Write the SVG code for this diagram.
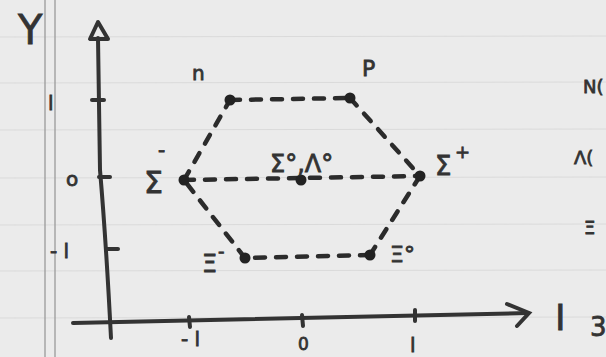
<svg xmlns="http://www.w3.org/2000/svg" width="606" height="357" viewBox="0 0 606 357">
<style>
.ax{stroke:#333;stroke-width:4;fill:none;stroke-linecap:round}
.tk{stroke:#333;stroke-width:4;stroke-linecap:round}
.dash{stroke:#2b2b2b;stroke-width:4.5;fill:none;stroke-dasharray:10 11;stroke-linecap:round}
.dot{fill:#222}
.lbl{font-family:"DejaVu Sans",sans-serif;fill:#333;stroke:#333;stroke-width:0.8}
.rule{stroke:#dadada;stroke-width:1}
</style>
<rect width="606" height="357" fill="#ebebeb"/>
<g id="paper">
<line class="rule" x1="0" y1="37" x2="606" y2="36"/>
<line class="rule" x1="0" y1="83" x2="606" y2="82"/>
<line class="rule" x1="0" y1="130" x2="606" y2="129"/>
<line class="rule" x1="0" y1="178" x2="606" y2="177"/>
<line class="rule" x1="0" y1="225" x2="606" y2="224"/>
<line class="rule" x1="0" y1="271" x2="606" y2="270"/>
<line class="rule" x1="0" y1="318" x2="606" y2="317"/>
<line x1="45" y1="0" x2="45" y2="357" stroke="#9a9a9a" stroke-width="1.3"/>
<line x1="55" y1="0" x2="55" y2="357" stroke="#9a9a9a" stroke-width="1.3"/>
</g>
<g id="axes">
<path class="ax" d="M98 38 L100 170 Q106 240 111 338"/>
<path d="M98 22 L90 39 L108 39 Z" stroke="#333" stroke-width="4" fill="none" stroke-linejoin="round"/>
<path class="ax" d="M73 323 L528 313"/>
<path class="ax" d="M507 304 L529 313 L517 326"/>
<line class="tk" x1="92" y1="100" x2="104" y2="100"/>
<line class="tk" x1="99" y1="177" x2="110" y2="177"/>
<line class="tk" x1="107" y1="249" x2="118" y2="249"/>
<line class="tk" x1="189" y1="317" x2="190" y2="327"/>
<line class="tk" x1="302" y1="315" x2="303" y2="326"/>
<line class="tk" x1="415" y1="310" x2="415" y2="321"/>
<text class="lbl" x="18" y="44" font-size="40">Y</text>
<text class="lbl" x="555" y="330" font-size="36">I</text>
<text class="lbl" x="590" y="336" font-size="26">3</text>
<text class="lbl" x="48" y="110" font-size="20">l</text>
<text class="lbl" x="66" y="186" font-size="20">o</text>
<text class="lbl" x="50" y="258" font-size="20">- l</text>
<text class="lbl" x="181" y="346" font-size="20">- l</text>
<text class="lbl" x="298" y="350" font-size="17">0</text>
<text class="lbl" x="410" y="352" font-size="20">l</text>
</g>
<g id="connectors">
<path class="dash" d="M230 100 L350 98"/>
<path class="dash" d="M350 98 L420 176"/>
<path class="dash" d="M420 176 L370 255"/>
<path class="dash" d="M370 255 L245 258"/>
<path class="dash" d="M245 258 L184 180"/>
<path class="dash" d="M184 180 L230 100"/>
<path class="dash" d="M184 180 L420 176"/>
</g>
<g id="node-n"><circle class="dot" cx="230" cy="100" r="5.5"/><text class="lbl" x="192" y="80" font-size="20">n</text></g>
<g id="node-p"><circle class="dot" cx="350" cy="98" r="5.5"/><text class="lbl" x="362" y="76" font-size="22">P</text></g>
<g id="node-sigma-minus"><circle class="dot" cx="184" cy="180" r="5.5"/><text class="lbl" x="144" y="193" font-size="30">Σ</text><text class="lbl" x="158" y="157" font-size="20">-</text></g>
<g id="node-sigma0-lambda0"><circle class="dot" cx="301" cy="180" r="5.5"/><text class="lbl" x="270" y="172" font-size="24">Σ°,Λ°</text></g>
<g id="node-sigma-plus"><circle class="dot" cx="420" cy="176" r="5.5"/><text class="lbl" x="435" y="175" font-size="26">Σ</text><text class="lbl" x="455" y="158" font-size="18">+</text></g>
<g id="node-xi-minus"><circle class="dot" cx="245" cy="258" r="5.5"/><text class="lbl" x="202" y="272" font-size="24">Ξ</text><text class="lbl" x="218" y="257" font-size="18">-</text></g>
<g id="node-xi0"><circle class="dot" cx="370" cy="255" r="5.5"/><text class="lbl" x="390" y="262" font-size="22">Ξ°</text></g>
<g id="right-notes">
<text class="lbl" x="583" y="93" font-size="18">N(</text>
<text class="lbl" x="574" y="164" font-size="18">Λ(</text>
<text class="lbl" x="584" y="234" font-size="18">Ξ</text>
</g>
</svg>
